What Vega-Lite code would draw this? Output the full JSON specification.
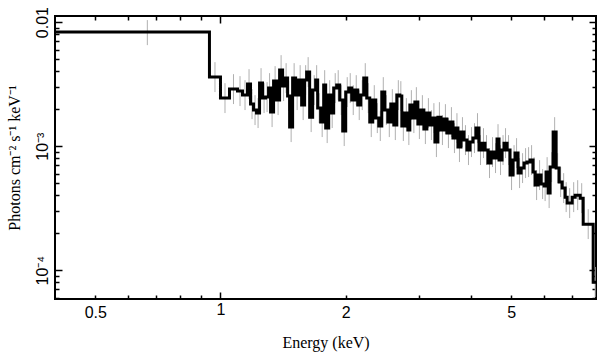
{
  "$schema": "https://vega.github.io/schema/vega-lite/v6.json",
  "width": 541,
  "height": 283,
  "autosize": {"type": "none"},
  "padding": {"left": 55, "top": 16, "right": 13, "bottom": 63},
  "background": "white",
  "config": {
    "view": {"stroke": "black", "strokeWidth": 2},
    "axis": {
      "domain": false,
      "grid": false,
      "tickColor": "black",
      "tickWidth": 1.5,
      "labelFont": "Liberation Sans",
      "labelFontSize": 16,
      "labelColor": "black",
      "titleFont": "Liberation Serif",
      "titleFontSize": 16,
      "titleFontWeight": "normal",
      "titleColor": "black",
      "labelOverlap": false,
      "labelFlush": false
    }
  },
  "datasets": {
    "spec": [
      {"e0": 0.4, "ec": 0.667, "f": 0.008305, "lo": 0.00652, "hi": 0.01038},
      {"e0": 0.9408, "ec": 0.970, "f": 0.003601, "lo": 0.002728, "hi": 0.004753},
      {"e0": 1.0, "ec": 1.0253, "f": 0.002438, "lo": 0.001847, "hi": 0.003218},
      {"e0": 1.0512, "ec": 1.0748, "f": 0.002882, "lo": 0.002183, "hi": 0.003804},
      {"e0": 1.0989, "ec": 1.1142, "f": 0.002777, "lo": 0.002104, "hi": 0.003666},
      {"e0": 1.1298, "ec": 1.1456, "f": 0.002578, "lo": 0.001953, "hi": 0.003403},
      {"e0": 1.1616, "ec": 1.1714, "f": 0.003162, "lo": 0.002396, "hi": 0.004174},
      {"e0": 1.1811, "ec": 1.1910, "f": 0.002181, "lo": 0.001652, "hi": 0.002879},
      {"e0": 1.2009, "ec": 1.2110, "f": 0.001951, "lo": 0.001478, "hi": 0.002575},
      {"e0": 1.2211, "ec": 1.2314, "f": 0.001846, "lo": 0.001399, "hi": 0.002437},
      {"e0": 1.2416, "ec": 1.2520, "f": 0.003222, "lo": 0.002441, "hi": 0.004253},
      {"e0": 1.2624, "ec": 1.2730, "f": 0.002438, "lo": 0.001847, "hi": 0.003218},
      {"e0": 1.2836, "ec": 1.2944, "f": 0.002484, "lo": 0.001882, "hi": 0.003279},
      {"e0": 1.3051, "ec": 1.3124, "f": 0.002936, "lo": 0.002224, "hi": 0.003876},
      {"e0": 1.3197, "ec": 1.3308, "f": 0.001880, "lo": 0.001424, "hi": 0.002482},
      {"e0": 1.3419, "ec": 1.3532, "f": 0.003343, "lo": 0.002533, "hi": 0.004413},
      {"e0": 1.3644, "ec": 1.3759, "f": 0.002349, "lo": 0.001780, "hi": 0.003101},
      {"e0": 1.3873, "ec": 1.3990, "f": 0.004101, "lo": 0.003107, "hi": 0.005413},
      {"e0": 1.4106, "ec": 1.4185, "f": 0.003047, "lo": 0.002308, "hi": 0.004022},
      {"e0": 1.4263, "ec": 1.4383, "f": 0.003535, "lo": 0.002678, "hi": 0.004666},
      {"e0": 1.4503, "ec": 1.4584, "f": 0.002531, "lo": 0.001917, "hi": 0.003341},
      {"e0": 1.4665, "ec": 1.4788, "f": 0.001423, "lo": 0.001078, "hi": 0.001878},
      {"e0": 1.4911, "ec": 1.5036, "f": 0.003535, "lo": 0.002678, "hi": 0.004666},
      {"e0": 1.5161, "ec": 1.5288, "f": 0.002578, "lo": 0.001953, "hi": 0.003403},
      {"e0": 1.5416, "ec": 1.5545, "f": 0.003406, "lo": 0.002580, "hi": 0.004496},
      {"e0": 1.5674, "ec": 1.5806, "f": 0.002141, "lo": 0.001622, "hi": 0.002826},
      {"e0": 1.5937, "ec": 1.6026, "f": 0.003406, "lo": 0.002580, "hi": 0.004496},
      {"e0": 1.6115, "ec": 1.6250, "f": 0.003952, "lo": 0.002994, "hi": 0.005217},
      {"e0": 1.6386, "ec": 1.6524, "f": 0.001713, "lo": 0.001298, "hi": 0.002261},
      {"e0": 1.6661, "ec": 1.6801, "f": 0.002829, "lo": 0.002143, "hi": 0.003734},
      {"e0": 1.6940, "ec": 1.7035, "f": 0.003406, "lo": 0.002580, "hi": 0.004496},
      {"e0": 1.7129, "ec": 1.7273, "f": 0.002025, "lo": 0.001534, "hi": 0.002673},
      {"e0": 1.7416, "ec": 1.7562, "f": 0.001562, "lo": 0.001183, "hi": 0.002062},
      {"e0": 1.7709, "ec": 1.7808, "f": 0.003104, "lo": 0.002352, "hi": 0.004097},
      {"e0": 1.7906, "ec": 1.8056, "f": 0.001397, "lo": 0.001058, "hi": 0.001844},
      {"e0": 1.8207, "ec": 1.8309, "f": 0.002578, "lo": 0.001953, "hi": 0.003403},
      {"e0": 1.8410, "ec": 1.8565, "f": 0.001846, "lo": 0.001399, "hi": 0.002437},
      {"e0": 1.8719, "ec": 1.8876, "f": 0.002936, "lo": 0.002224, "hi": 0.003876},
      {"e0": 1.9033, "ec": 1.9193, "f": 0.003104, "lo": 0.002352, "hi": 0.004097},
      {"e0": 1.9353, "ec": 1.9516, "f": 0.002349, "lo": 0.001780, "hi": 0.003101},
      {"e0": 1.9677, "ec": 1.9842, "f": 0.001321, "lo": 0.001001, "hi": 0.001744},
      {"e0": 2.0007, "ec": 2.0175, "f": 0.002726, "lo": 0.002065, "hi": 0.003598},
      {"e0": 2.0343, "ec": 2.0514, "f": 0.002936, "lo": 0.002224, "hi": 0.003876},
      {"e0": 2.0684, "ec": 2.0858, "f": 0.002349, "lo": 0.001780, "hi": 0.003101},
      {"e0": 2.1031, "ec": 2.1208, "f": 0.002829, "lo": 0.002143, "hi": 0.003734},
      {"e0": 2.1384, "ec": 2.1564, "f": 0.002141, "lo": 0.001622, "hi": 0.002826},
      {"e0": 2.1743, "ec": 2.1926, "f": 0.002578, "lo": 0.001953, "hi": 0.003403},
      {"e0": 2.2108, "ec": 2.2294, "f": 0.003535, "lo": 0.002678, "hi": 0.004666},
      {"e0": 2.2479, "ec": 2.2668, "f": 0.002438, "lo": 0.001847, "hi": 0.003218},
      {"e0": 2.2856, "ec": 2.3048, "f": 0.001562, "lo": 0.001183, "hi": 0.002062},
      {"e0": 2.3240, "ec": 2.3435, "f": 0.002349, "lo": 0.001780, "hi": 0.003101},
      {"e0": 2.3632, "ec": 2.3831, "f": 0.001682, "lo": 0.001274, "hi": 0.002220},
      {"e0": 2.4027, "ec": 2.4229, "f": 0.001450, "lo": 0.001099, "hi": 0.001914},
      {"e0": 2.4430, "ec": 2.4635, "f": 0.002726, "lo": 0.002065, "hi": 0.003598},
      {"e0": 2.4841, "ec": 2.5050, "f": 0.001951, "lo": 0.001478, "hi": 0.002575},
      {"e0": 2.5258, "ec": 2.5470, "f": 0.001562, "lo": 0.001183, "hi": 0.002062},
      {"e0": 2.5682, "ec": 2.5898, "f": 0.002181, "lo": 0.001652, "hi": 0.002879},
      {"e0": 2.6113, "ec": 2.6332, "f": 0.001477, "lo": 0.001119, "hi": 0.001950},
      {"e0": 2.6551, "ec": 2.6774, "f": 0.002578, "lo": 0.001953, "hi": 0.003403},
      {"e0": 2.6997, "ec": 2.7148, "f": 0.002531, "lo": 0.001917, "hi": 0.003341},
      {"e0": 2.7298, "ec": 2.7527, "f": 0.001450, "lo": 0.001099, "hi": 0.001914},
      {"e0": 2.7757, "ec": 2.7990, "f": 0.001846, "lo": 0.001399, "hi": 0.002437},
      {"e0": 2.8223, "ec": 2.8381, "f": 0.001346, "lo": 0.001020, "hi": 0.001777},
      {"e0": 2.8538, "ec": 2.8778, "f": 0.002141, "lo": 0.001622, "hi": 0.002826},
      {"e0": 2.9017, "ec": 2.9179, "f": 0.001682, "lo": 0.001274, "hi": 0.002220},
      {"e0": 2.9341, "ec": 2.9587, "f": 0.002264, "lo": 0.001715, "hi": 0.002988},
      {"e0": 2.9833, "ec": 3.0084, "f": 0.001505, "lo": 0.001140, "hi": 0.001987},
      {"e0": 3.0334, "ec": 3.0589, "f": 0.001951, "lo": 0.001478, "hi": 0.002575},
      {"e0": 3.0843, "ec": 3.1102, "f": 0.001371, "lo": 0.001039, "hi": 0.001810},
      {"e0": 3.1361, "ec": 3.1624, "f": 0.001846, "lo": 0.001399, "hi": 0.002437},
      {"e0": 3.1887, "ec": 3.2155, "f": 0.001477, "lo": 0.001119, "hi": 0.001950},
      {"e0": 3.2423, "ec": 3.2604, "f": 0.001682, "lo": 0.001274, "hi": 0.002220},
      {"e0": 3.2784, "ec": 3.3059, "f": 0.001077, "lo": 0.0008159, "hi": 0.001422},
      {"e0": 3.3334, "ec": 3.3614, "f": 0.001713, "lo": 0.001298, "hi": 0.002261},
      {"e0": 3.3894, "ec": 3.4179, "f": 0.001346, "lo": 0.001020, "hi": 0.001777},
      {"e0": 3.4462, "ec": 3.4751, "f": 0.001651, "lo": 0.001251, "hi": 0.002179},
      {"e0": 3.5041, "ec": 3.5335, "f": 0.001273, "lo": 0.0009644, "hi": 0.001680},
      {"e0": 3.5629, "ec": 3.5928, "f": 0.001562, "lo": 0.001183, "hi": 0.002062},
      {"e0": 3.6227, "ec": 3.6531, "f": 0.001160, "lo": 0.0008788, "hi": 0.001531},
      {"e0": 3.6835, "ec": 3.7041, "f": 0.001397, "lo": 0.001058, "hi": 0.001844},
      {"e0": 3.7246, "ec": 3.7559, "f": 0.0009818, "lo": 0.0007438, "hi": 0.001296},
      {"e0": 3.7871, "ec": 3.8189, "f": 0.001297, "lo": 0.0009826, "hi": 0.001712},
      {"e0": 3.8507, "ec": 3.8830, "f": 0.001118, "lo": 0.0008470, "hi": 0.001476},
      {"e0": 3.9153, "ec": 3.9482, "f": 0.0009286, "lo": 0.0007035, "hi": 0.001226},
      {"e0": 3.9811, "ec": 4.0145, "f": 0.001077, "lo": 0.0008159, "hi": 0.001422},
      {"e0": 4.0479, "ec": 4.0819, "f": 0.001160, "lo": 0.0008788, "hi": 0.001531},
      {"e0": 4.1158, "ec": 4.1504, "f": 0.001397, "lo": 0.001058, "hi": 0.001844},
      {"e0": 4.1849, "ec": 4.2200, "f": 0.0009286, "lo": 0.0007035, "hi": 0.001226},
      {"e0": 4.2551, "ec": 4.2908, "f": 0.001057, "lo": 0.0008008, "hi": 0.001395},
      {"e0": 4.3265, "ec": 4.3628, "f": 0.0009286, "lo": 0.0007035, "hi": 0.001226},
      {"e0": 4.3991, "ec": 4.4361, "f": 0.0007293, "lo": 0.0005525, "hi": 0.0009627},
      {"e0": 4.4729, "ec": 4.5105, "f": 0.0008945, "lo": 0.0006777, "hi": 0.001181},
      {"e0": 4.5480, "ec": 4.5862, "f": 0.0008003, "lo": 0.0006063, "hi": 0.001056},
      {"e0": 4.6243, "ec": 4.6502, "f": 0.001139, "lo": 0.0008629, "hi": 0.001503},
      {"e0": 4.6760, "ec": 4.7153, "f": 0.0007711, "lo": 0.0005842, "hi": 0.001018},
      {"e0": 4.7544, "ec": 4.7810, "f": 0.0009286, "lo": 0.0007035, "hi": 0.001226},
      {"e0": 4.8075, "ec": 4.8479, "f": 0.001057, "lo": 0.0008008, "hi": 0.001395},
      {"e0": 4.8882, "ec": 4.9292, "f": 0.0009286, "lo": 0.0007035, "hi": 0.001226},
      {"e0": 4.9702, "ec": 5.0119, "f": 0.0005837, "lo": 0.0004422, "hi": 0.0007705},
      {"e0": 5.0536, "ec": 5.0819, "f": 0.0007711, "lo": 0.0005842, "hi": 0.001018},
      {"e0": 5.1101, "ec": 5.1530, "f": 0.0008781, "lo": 0.0006652, "hi": 0.001159},
      {"e0": 5.1958, "ec": 5.2394, "f": 0.0006058, "lo": 0.0004589, "hi": 0.0007997},
      {"e0": 5.2830, "ec": 5.3274, "f": 0.0006647, "lo": 0.0005036, "hi": 0.0008774},
      {"e0": 5.3716, "ec": 5.4167, "f": 0.0007293, "lo": 0.0005525, "hi": 0.0009627},
      {"e0": 5.4618, "ec": 5.5077, "f": 0.0007430, "lo": 0.0005629, "hi": 0.0009808},
      {"e0": 5.5534, "ec": 5.6000, "f": 0.0007711, "lo": 0.0005842, "hi": 0.001018},
      {"e0": 5.6466, "ec": 5.6782, "f": 0.0006172, "lo": 0.0004676, "hi": 0.0008147},
      {"e0": 5.7097, "ec": 5.7577, "f": 0.0004848, "lo": 0.0003673, "hi": 0.0006399},
      {"e0": 5.8055, "ec": 5.8543, "f": 0.0005837, "lo": 0.0004422, "hi": 0.0007705},
      {"e0": 5.9029, "ec": 5.9525, "f": 0.0004939, "lo": 0.0003742, "hi": 0.0006519},
      {"e0": 6.0020, "ec": 6.0356, "f": 0.0004759, "lo": 0.0003605, "hi": 0.0006282},
      {"e0": 6.0690, "ec": 6.1030, "f": 0.0006172, "lo": 0.0004676, "hi": 0.0008147},
      {"e0": 6.1368, "ec": 6.1712, "f": 0.0004178, "lo": 0.0003165, "hi": 0.0005515},
      {"e0": 6.2053, "ec": 6.2574, "f": 0.0006772, "lo": 0.0005130, "hi": 0.0008939},
      {"e0": 6.3096, "ec": 6.3626, "f": 0.001297, "lo": 0.0009826, "hi": 0.001712},
      {"e0": 6.4154, "ec": 6.4693, "f": 0.0006647, "lo": 0.0005036, "hi": 0.0008774},
      {"e0": 6.5231, "ec": 6.5779, "f": 0.0005126, "lo": 0.0003883, "hi": 0.0006766},
      {"e0": 6.6325, "ec": 6.6882, "f": 0.0004585, "lo": 0.0003474, "hi": 0.0006052},
      {"e0": 6.7438, "ec": 6.7816, "f": 0.0003878, "lo": 0.0002938, "hi": 0.0005119},
      {"e0": 6.8191, "ec": 6.9146, "f": 0.0003470, "lo": 0.0002629, "hi": 0.0004580},
      {"e0": 7.0109, "ec": 7.0698, "f": 0.0003878, "lo": 0.0002938, "hi": 0.0005119},
      {"e0": 7.1286, "ec": 7.2285, "f": 0.0004025, "lo": 0.0003049, "hi": 0.0005313},
      {"e0": 7.3291, "ec": 7.3907, "f": 0.0003807, "lo": 0.0002884, "hi": 0.0005025},
      {"e0": 7.4521, "ec": 7.6623, "f": 0.0002349, "lo": 0.0001780, "hi": 0.0003101},
      {"e0": 7.8760, "ec": 7.9642, "f": 0.0000800, "lo": 0.0000606, "hi": 0.000106},
      {"e0": 8.1, "f": 0.0000800}
    ]
  },
  "data": {"name": "spec"},
  "layer": [
    {
      "transform": [{"filter": "isValid(datum.ec)"}],
      "mark": {"type": "rule", "color": "#b0b0b0", "strokeWidth": 1, "clip": true},
      "encoding": {
        "x": {
          "field": "ec", "type": "quantitative",
          "scale": {"type": "log", "domain": [0.4, 8], "nice": false},
          "axis": {
            "orient": "bottom",
            "title": "Energy (keV)",
            "titlePadding": 14,
            "values": [0.5, 0.6, 0.7, 0.8, 0.9, 1, 2, 3, 4, 5, 6, 7],
            "labelExpr": "datum.value == 0.5 ? '0.5' : datum.value == 1 ? '1' : datum.value == 2 ? '2' : datum.value == 5 ? '5' : ''",
            "tickSize": {"condition": {"test": "datum.value == 1", "value": -7}, "value": -4},
            "labelPadding": 9
          }
        },
        "y": {
          "field": "lo", "type": "quantitative",
          "scale": {"type": "log", "domain": [0.0000585, 0.0112], "nice": false},
          "axis": {
            "orient": "left",
            "title": "Photons cm⁻² s⁻¹ keV⁻¹",
            "titlePadding": 9,
            "values": [0.00006, 0.00007, 0.00008, 0.00009, 0.0001, 0.0002, 0.0003, 0.0004, 0.0005, 0.0006, 0.0007, 0.0008, 0.0009, 0.001, 0.002, 0.003, 0.004, 0.005, 0.006, 0.007, 0.008, 0.009, 0.01],
            "labelExpr": "datum.value == 0.01 ? '0.01' : datum.value == 0.001 ? '10⁻³' : datum.value == 0.0001 ? '10⁻⁴' : ''",
            "labelAngle": -90,
            "labelAlign": "center",
            "labelBaseline": "bottom",
            "tickSize": {"condition": {"test": "datum.value == 0.01 || datum.value == 0.001 || datum.value == 0.0001", "value": -7}, "value": -4},
            "labelPadding": 12
          }
        },
        "y2": {"field": "hi"}
      }
    },
    {
      "mark": {"type": "line", "interpolate": "step-after", "color": "black", "strokeWidth": 3, "clip": true},
      "encoding": {
        "x": {
          "field": "e0", "type": "quantitative",
          "scale": {"type": "log", "domain": [0.4, 8], "nice": false},
          "axis": {
            "orient": "top",
            "title": null,
            "labels": false,
            "values": [0.5, 0.6, 0.7, 0.8, 0.9, 1, 2, 3, 4, 5, 6, 7],
            "tickSize": {"condition": {"test": "datum.value == 1", "value": -7}, "value": -4}
          }
        },
        "y": {
          "field": "f", "type": "quantitative",
          "scale": {"type": "log", "domain": [0.0000585, 0.0112], "nice": false},
          "axis": {
            "orient": "right",
            "title": null,
            "labels": false,
            "values": [0.00006, 0.00007, 0.00008, 0.00009, 0.0001, 0.0002, 0.0003, 0.0004, 0.0005, 0.0006, 0.0007, 0.0008, 0.0009, 0.001, 0.002, 0.003, 0.004, 0.005, 0.006, 0.007, 0.008, 0.009, 0.01],
            "tickSize": {"condition": {"test": "datum.value == 0.01 || datum.value == 0.001 || datum.value == 0.0001", "value": -7}, "value": -4}
          }
        }
      }
    }
  ],
  "resolve": {"axis": {"x": "independent", "y": "independent"}}
}
